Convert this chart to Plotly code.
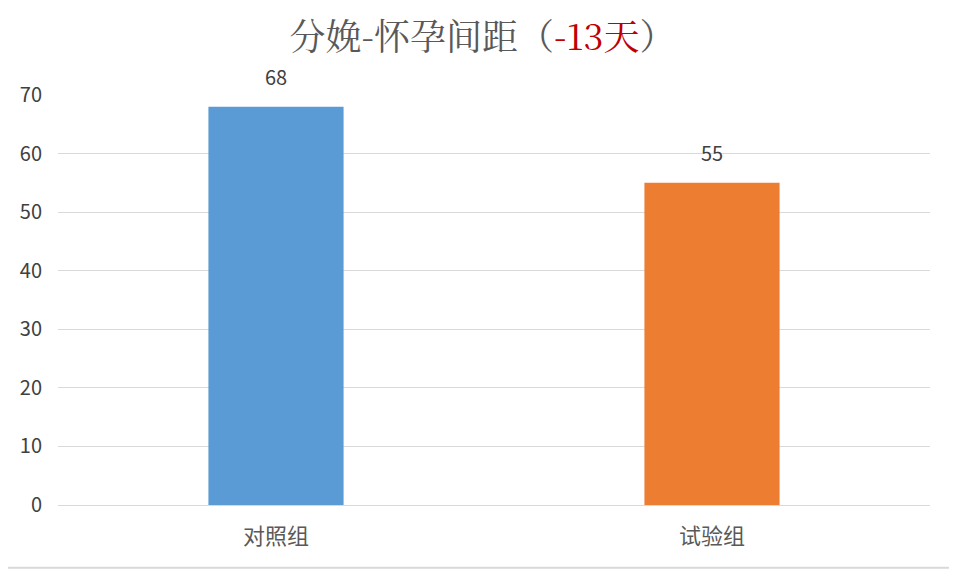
import plotly.graph_objects as go

# data
groups = ["对照组", "试验组"]
values = [68, 55]
bar_colors = ["#5B9BD5", "#ED7D31"]
y_ticks = [0, 10, 20, 30, 40, 50, 60, 70]

fig = go.Figure()
fig.add_trace(go.Bar(
    x=groups, y=values,
    marker=dict(color=bar_colors, line=dict(width=0)),
    width=0.31,
))

# value labels sit well above the bars
for g, v in zip(groups, values):
    fig.add_annotation(x=g, y=v, text=str(v), showarrow=False, yshift=30,
                       font=dict(size=20, color="#404040", family="Noto Sans CJK SC"))

# page has an 8px body margin, so the figure is drawn 8px smaller
fig.update_layout(
    title=dict(
        text="分娩-怀孕间距（<span style='color:#C00000'>-13天</span>）",
        x=0.5, xanchor="center", y=0.948, yanchor="middle",
        font=dict(size=36, color="#595959", family="Noto Serif CJK SC, Noto Sans CJK SC, serif"),
    ),
    width=949, height=565,
    margin=dict(l=50, r=27, t=87, b=68),
    plot_bgcolor="white", paper_bgcolor="white",
    showlegend=False,
    font=dict(family="Noto Sans CJK SC", color="#595959"),
)
fig.update_yaxes(
    range=[0, 70], tickvals=y_ticks, showgrid=True, gridcolor="#D9D9D9", gridwidth=1,
    zeroline=True, zerolinecolor="#D9D9D9", zerolinewidth=1,
    tickfont=dict(size=20, color="#404040"), ticks="", ticklabelstandoff=15,
)
fig.update_xaxes(
    showline=False, tickfont=dict(size=22, color="#595959"), ticks="",
    ticklabelstandoff=16,
)
# thin grey rule along the bottom of the picture
fig.add_shape(type="line", xref="paper", yref="paper", x0=-0.06, x1=1.03, y0=-0.153, y1=-0.153,
              line=dict(color="#D9D9D9", width=2))

fig.write_html("out.html")
